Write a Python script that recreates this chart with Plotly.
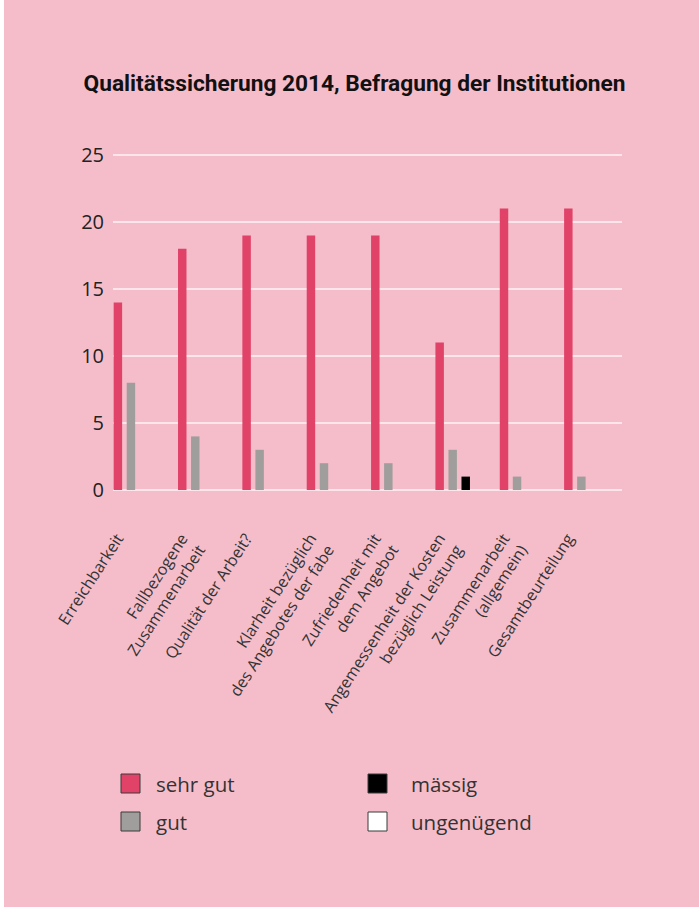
import plotly.graph_objects as go

categories = [
    "Erreichbarkeit",
    "Fallbezogene<br>Zusammenarbeit",
    "Qualität der Arbeit?",
    "Klarheit bezüglich<br>des Angebotes der fabe",
    "Zufriedenheit mit<br>dem Angebot",
    "Angemessenheit der Kosten<br>bezüglich Leistung",
    "Zusammenarbeit<br>(allgemein)",
    "Gesamtbeurteilung",
]
series_names = ["sehr gut", "gut", "mässig", "ungenügend"]
sehr_gut = [14, 18, 19, 19, 19, 11, 21, 21]
gut = [8, 4, 3, 2, 2, 3, 1, 1]
maessig = [0, 0, 0, 0, 0, 1, 0, 0]
ungenuegend = [0, 0, 0, 0, 0, 0, 0, 0]
y_ticks = [0, 5, 10, 15, 20, 25]

series_values = [sehr_gut, gut, maessig, ungenuegend]
colors = ["#e14268", "#a09e9c", "#000000", "#ffffff"]

W, H = 699, 908
L, R, T, B = 113, 622, 153, 490  # plot area in px
PINK = "#f5bdca"

fig = go.Figure()
for name, vals, col in zip(series_names, series_values, colors):
    fig.add_trace(go.Bar(x=categories, y=vals, name=name, marker_color=col,
                         marker_line_width=0, showlegend=False))

def px_x(px):
    return (px - L) / (R - L)

def px_y(py):
    return (B - py) / (B - T)

shapes = []
annotations = []
# white strip on the left edge and bottom edge of page
shapes.append(dict(type="rect", xref="paper", yref="paper", x0=px_x(-2), x1=px_x(4),
                   y0=px_y(H + 2), y1=px_y(-2), fillcolor="#ffffff", line_width=0, layer="below"))
shapes.append(dict(type="rect", xref="paper", yref="paper", x0=px_x(-2), x1=px_x(W + 2),
                   y0=px_y(H + 2), y1=px_y(907), fillcolor="#ffffff", line_width=0, layer="below"))

# manual legend (2 columns)
legend_pos = [(121, 774), (121, 812), (368, 774), (368, 812)]
for (sx, sy), name, col in zip(legend_pos, series_names, colors):
    shapes.append(dict(type="rect", xref="paper", yref="paper",
                       x0=px_x(sx), x1=px_x(sx + 19), y0=px_y(sy + 19), y1=px_y(sy),
                       fillcolor=col, line=dict(color="#3a3a3a", width=1)))
    annotations.append(dict(xref="paper", yref="paper", x=px_x(sx + 33 if sx < 200 else sx + 41),
                            y=px_y(sy + 10), text=name, showarrow=False,
                            xanchor="left", yanchor="middle",
                            font=dict(family="Open Sans", size=20.5, color="#333333")))

fig.update_layout(
    width=W, height=H,
    margin=dict(l=L, r=W - R, t=T, b=H - B, pad=0),
    paper_bgcolor=PINK, plot_bgcolor=PINK,
    title=dict(text="<b>Qualitätssicherung 2014, Befragung der Institutionen</b>",
               x=354.5 / W, xanchor="center", xref="container",
               y=1 - 83 / H, yanchor="middle", yref="container",
               font=dict(family="Roboto", size=22.7, color="#111111")),
    barmode="group", bargap=0.19, bargroupgap=0.35,
    shapes=shapes, annotations=annotations,
    showlegend=False,
)
fig.update_xaxes(range=[-0.38, 7.53], tickangle=-57, showgrid=False, showline=False,
                 ticks="", ticklabelstandoff=35, ticklabelshift=-20,
                 tickfont=dict(family="Open Sans", size=16, color="#333333"),
                 fixedrange=True)
fig.update_yaxes(range=[0, 25.15], tickvals=y_ticks, showgrid=True, gridcolor="#fce6ec",
                 gridwidth=1.5, zeroline=True, zerolinecolor="#fce6ec", zerolinewidth=1.5,
                 showline=False, ticks="", ticklabelstandoff=8,
                 tickfont=dict(family="Open Sans", size=20, color="#222222"))

fig.write_html("out.html", config={"displayModeBar": False},
               post_script="document.body.style.margin='0px';")
